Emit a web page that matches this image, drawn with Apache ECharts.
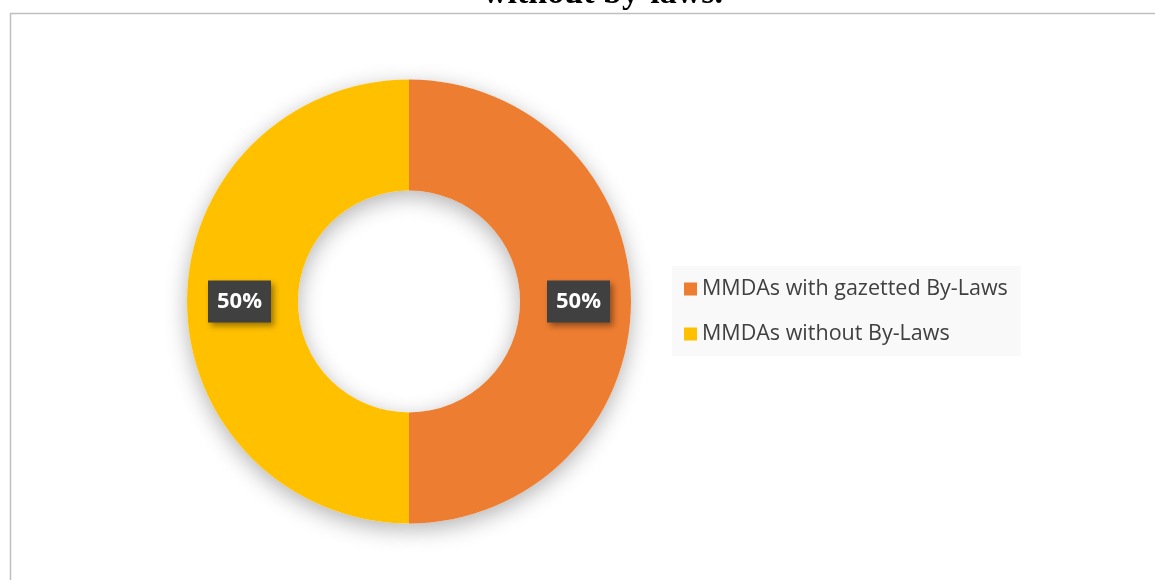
<!DOCTYPE html>
<html>
<head>
<meta charset="utf-8">
<script src="https://cdn.jsdelivr.net/npm/echarts@6/dist/echarts.min.js"></script>
<style>
html,body{margin:0;padding:0;background:#fff;}
#chart{width:1155px;height:580px;}
</style>
</head>
<body>
<div id="chart"></div>
<script>
const titleText = 'without by-laws.';
const categories = ['MMDAs with gazetted By-Laws', 'MMDAs without By-Laws'];
const values = [50, 50];
const colors = ['#ED7D31', '#FFC000'];

const chart = echarts.init(document.getElementById('chart'));
chart.setOption({
  animation: false,
  graphic: [
    {
      type: 'rect',
      shape: { x: 10.5, y: 13.5, width: 1160, height: 600 },
      style: { fill: 'none', stroke: '#bfbfbf', lineWidth: 1.5 },
      z: 0
    },
    {
      type: 'text',
      x: 603, y: 11,
      style: {
        text: titleText,
        font: 'bold 34px "Liberation Serif", "Times New Roman", serif',
        fill: '#000',
        align: 'center',
        verticalAlign: 'bottom'
      },
      z: 1
    }
  ],
  legend: {
    orient: 'vertical',
    left: 672,
    top: 266,
    backgroundColor: '#f9f9f9',
    padding: [11, 13, 10, 12],
    itemGap: 21,
    itemWidth: 13,
    itemHeight: 13,
    icon: 'rect',
    textStyle: {
      fontFamily: '"Open Sans", sans-serif',
      fontSize: 21.5,
      lineHeight: 24,
      color: '#404040'
    },
    data: categories
  },
  series: [
    {
      type: 'pie',
      silent: true,
      center: [409, 301.5],
      radius: [111, 222],
      startAngle: 90,
      itemStyle: {
        color: '#ffffff',
        shadowBlur: 22,
        shadowColor: 'rgba(0,0,0,0.3)',
        shadowOffsetY: 6
      },
      label: { show: false },
      labelLine: { show: false },
      emphasis: { disabled: true },
      z: 1,
      data: values.map(v => ({ value: v }))
    },
    {
      type: 'pie',
      name: 'share',
      center: [409, 301.5],
      radius: [111, 222],
      startAngle: 90,
      clockwise: true,
      color: colors,
      emphasis: { disabled: true },
      z: 2,
      label: {
        show: true,
        position: 'inside',
        formatter: '{d}%',
        fontFamily: '"Open Sans", sans-serif',
        fontSize: 22,
        fontWeight: 'bold',
        color: '#fff',
        backgroundColor: '#404040',
        padding: [9, 9, 9, 9],
        lineHeight: 24,
        shadowBlur: 6,
        shadowOffsetX: 3,
        shadowOffsetY: 3,
        shadowColor: 'rgba(0,0,0,0.4)'
      },
      labelLine: { show: false },
      data: categories.map((c, i) => ({ name: c, value: values[i] }))
    }
  ]
});
</script>
</body>
</html>
